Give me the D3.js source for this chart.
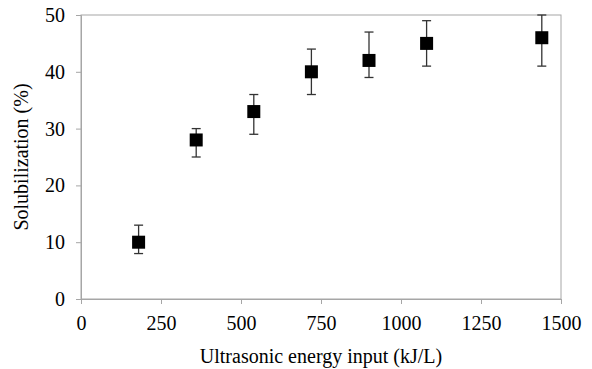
<!DOCTYPE html>
<html>
<head>
<meta charset="utf-8">
<script src="https://cdn.jsdelivr.net/npm/d3@7"></script>
<style>
  body { margin: 0; background: #fff; }
</style>
</head>
<body>
<div class="grafico"></div>
<script>
var energia = [180, 360, 540, 720, 900, 1080, 1440];
var solub = [10, 28, 33, 40, 42, 45, 46];
var errBajo = [8, 25, 29, 36, 39, 41, 41];
var errAlto = [13, 30, 36, 44, 47, 49, 50];
var xTicks = [0, 250, 500, 750, 1000, 1250, 1500];
var yTicks = [0, 10, 20, 30, 40, 50];

var width = 592;
var height = 369;
var margin = { top: 15, right: 31, bottom: 70, left: 81 };
var fuente = 'Liberation Serif';

var svg = d3.select('.grafico')
  .append('svg')
  .attr('width', width)
  .attr('height', height);

var xScale = d3.scaleLinear()
  .domain([0, 1500])
  .range([margin.left, width - margin.right]);

var yScale = d3.scaleLinear()
  .domain([0, 50])
  .range([height - margin.bottom, margin.top]);

var gris = '#a6a6a6';

// marco
svg.append('rect')
  .attr('x', margin.left)
  .attr('y', margin.top)
  .attr('width', xScale(1500) - xScale(0))
  .attr('height', yScale(0) - yScale(50))
  .attr('fill', 'none')
  .attr('stroke', gris)
  .attr('stroke-width', 1);

var xAxis = d3.axisBottom(xScale)
  .tickValues(xTicks)
  .tickSize(5)
  .tickPadding(12)
  .tickFormat(d3.format('d'));

var yAxis = d3.axisLeft(yScale)
  .tickValues(yTicks)
  .tickSize(5)
  .tickPadding(11);

var gx = svg.append('g')
  .attr('transform', 'translate(0,' + yScale(0) + ')')
  .call(xAxis);

var gy = svg.append('g')
  .attr('transform', 'translate(' + margin.left + ',0)')
  .call(yAxis);

[gx, gy].forEach(function (g) {
  g.attr('font-family', fuente).attr('font-size', 20);
  g.select('.domain').attr('stroke', gris);
  g.selectAll('.tick line').attr('stroke', gris);
  g.selectAll('.tick text').attr('fill', '#000');
});

// barras de error
var barras = svg.append('g');
energia.forEach(function (e, i) {
  var cx = xScale(e);
  barras.append('line')
    .attr('x1', cx).attr('x2', cx)
    .attr('y1', yScale(errBajo[i])).attr('y2', yScale(errAlto[i]))
    .attr('stroke', '#333').attr('stroke-width', 1.3);
  [errBajo[i], errAlto[i]].forEach(function (v) {
    barras.append('line')
      .attr('x1', cx - 4.5).attr('x2', cx + 4.5)
      .attr('y1', yScale(v)).attr('y2', yScale(v))
      .attr('stroke', '#333').attr('stroke-width', 1.3);
  });
});

var lado = 13;
svg.selectAll('rect.punto')
  .data(solub)
  .enter()
  .append('rect')
  .attr('class', 'punto')
  .attr('x', function (d, i) { return xScale(energia[i]) - lado / 2; })
  .attr('y', function (d) { return yScale(d) - lado / 2; })
  .attr('width', lado)
  .attr('height', lado)
  .attr('fill', '#000');

svg.append('text')
  .attr('x', (xScale(0) + xScale(1500)) / 2)
  .attr('y', 363)
  .attr('text-anchor', 'middle')
  .attr('font-family', fuente)
  .attr('font-size', 20)
  .text('Ultrasonic energy input (kJ/L)');

svg.append('text')
  .attr('transform', 'translate(28,' + (yScale(25)) + ') rotate(-90)')
  .attr('text-anchor', 'middle')
  .attr('font-family', fuente)
  .attr('font-size', 20)
  .text('Solubilization (%)');
</script>
</body>
</html>
